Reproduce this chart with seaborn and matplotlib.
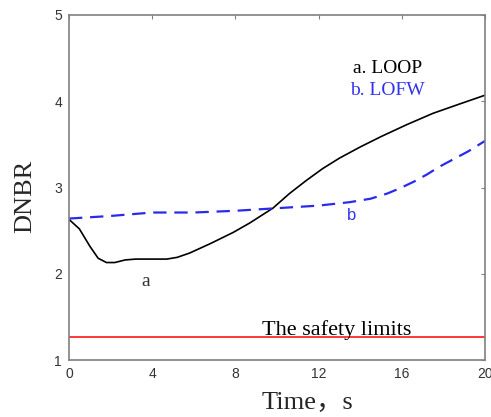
import numpy as np
import pandas as pd
import matplotlib
matplotlib.use("Agg")
import matplotlib.pyplot as plt
import seaborn as sns

# Data
time_a = [0, 0.5, 1.0, 1.4, 1.8, 2.2, 2.7, 3.2, 4.0, 4.7, 5.2, 5.8, 6.8, 7.9, 8.7, 9.8, 10.6, 11.4, 12.2, 13.0, 14.0, 15.0, 16.25, 17.5, 18.8, 20.0]
dnbr_a = [2.63, 2.52, 2.32, 2.18, 2.13, 2.13, 2.16, 2.17, 2.17, 2.17, 2.19, 2.24, 2.35, 2.48, 2.59, 2.76, 2.93, 3.08, 3.22, 3.34, 3.47, 3.59, 3.73, 3.86, 3.97, 4.07]
time_b = [0, 2, 4, 6, 8, 10, 12, 13.5, 14.5, 15.3, 15.9, 16.6, 17.2, 17.8, 18.5, 19.2, 20]
dnbr_b = [2.64, 2.67, 2.71, 2.71, 2.73, 2.76, 2.79, 2.83, 2.87, 2.93, 2.99, 3.07, 3.15, 3.24, 3.33, 3.42, 3.54]
safety_limit = 1.27
x_ticks = [0, 4, 8, 12, 16, 20]
y_ticks = [1, 2, 3, 4, 5]

sns.set_theme(style="white")
plt.rcParams['font.family'] = ['Liberation Sans', 'DejaVu Sans']

fig = plt.figure(figsize=(4.91, 4.17), dpi=100)
ax = fig.add_axes([69/491, 1-360/417, 416/491, 345/417])

df_a = pd.DataFrame({"t": time_a, "v": dnbr_a})
df_b = pd.DataFrame({"t": time_b, "v": dnbr_b})
sns.lineplot(data=df_a, x="t", y="v", ax=ax, color="black", linewidth=1.2)
sns.lineplot(data=df_b, x="t", y="v", ax=ax, color="#2a2aee", linewidth=1.6)
ax.lines[-1].set_dashes([6, 3.5])
ax.axhline(safety_limit, color="red", linewidth=1.1)

ax.set_xlim(0, 20)
ax.set_ylim(1, 5)
ax.set_xticks(x_ticks)
ax.set_yticks(y_ticks)
ax.tick_params(direction="in", length=3, top=True, right=True, labelsize=10,
               colors="#808080", labelcolor="#333333", pad=5, width=0.8)
for s in ax.spines.values():
    s.set_color("#808080")
    s.set_linewidth(1.2)

serif = ['Liberation Serif', 'Noto Sans CJK SC']
ax.set_xlabel("Time，s", family=serif, fontsize=19)
ax.set_ylabel("DNBR", family=serif, fontsize=19)
ax.xaxis.set_label_coords(0.572, -0.093)
ax.yaxis.set_label_coords(-0.078, 0.475)

ax.text(13.65, 4.38, "a. LOOP", family=serif, fontsize=14, color="black", va="center")
ax.text(13.5, 4.13, "b. LOFW", family=serif, fontsize=14, color="#3333ee", va="center")
ax.text(3.7, 1.91, "a", family=serif, fontsize=14, color="#333333", ha="center", va="center")
ax.text(13.6, 2.68, "b", fontsize=12, color="#3333ee", ha="center", va="center")
ax.text(9.3, 1.285, "The safety limits", family=serif, fontsize=16, color="black", va="baseline")

fig.savefig("out.png", dpi=100)
